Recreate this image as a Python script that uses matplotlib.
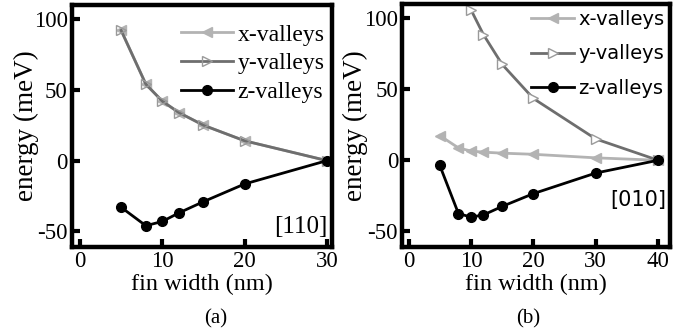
import numpy as np
import matplotlib.pyplot as plt

#--------------------
# data

width_a = [5, 8, 10, 12, 15, 20, 30]
xval_a = [92, 54, 42, 34, 25, 14, 0]
yval_a = [92, 54, 42, 34, 25, 14, 0]
zval_a = [-33, -46, -43, -37, -29, -16.5, 0]

width_b = [5, 8, 10, 12, 15, 20, 30, 40]
xval_b = [17.4, 8.7, 6.5, 5.7, 5.0, 4.2, 1.7, 0]
width_b_y = [10, 12, 15, 20, 30, 40]
yval_b = [106, 88.5, 67.5, 43.5, 15, 0]
zval_b = [-3.5, -37.5, -40, -38.5, -32.5, -23.5, -9, 0]

labels = ['x-valleys', 'y-valleys', 'z-valleys']
light = '#b3b3b3'
mid = '#6e6e6e'

plt.rcParams['font.family'] = ['Liberation Serif', 'DejaVu Serif']
plt.rcParams['font.size'] = 17
plt.rcParams['axes.unicode_minus'] = False

fig = plt.figure(figsize=(6.9, 3.31), dpi=100)
ax_a = fig.add_axes([0.104, 0.254, 0.377, 0.731])
ax_b = fig.add_axes([0.583, 0.254, 0.388, 0.734])


def style_axes(ax, xmax, xticks):
    for s in ax.spines.values():
        s.set_linewidth(3.2)
    ax.tick_params(direction='in', length=6, width=3.0, top=False, right=False,
                   labelsize=16.5, pad=3)
    ax.set_xticks(xticks)
    ax.set_yticks([-50, 0, 50, 100])
    ax.set_xlim(xticks[0] - 1, xmax)
    ax.set_ylim(-61, 110)
    ax.set_xlabel('fin width (nm)', fontsize=17.5, va='center')
    ax.xaxis.set_label_coords(0.5, -0.155)
    ax.set_ylabel('energy (meV)', fontsize=19.5, va='center')
    ax.yaxis.set_label_coords(-0.175, 0.5)


def draw(ax, wx, xv, wy, yv, wz, zv, yface):
    ax.plot(wx, xv, color=light, lw=2, marker='<', ms=7, mfc=light, mec=light, label=labels[0])
    ax.plot(wy, yv, color=mid, lw=2, marker='>', ms=7, mfc=yface, mec='#9a9a9a', label=labels[1])
    ax.plot(wz, zv, color='black', lw=2, marker='o', ms=7, label=labels[2])


draw(ax_a, width_a, xval_a, width_a, yval_a, width_a, zval_a, 'none')
style_axes(ax_a, 30.6, [0, 10, 20, 30])
ax_a.legend(loc='upper right', bbox_to_anchor=(1.0, 0.95), frameon=False,
            handlelength=2.2, handletextpad=0.2, labelspacing=0.3,
            borderaxespad=0.1, borderpad=0.2, fontsize=17)
ax_a.text(0.985, 0.035, '[110]', transform=ax_a.transAxes, ha='right', va='bottom', fontsize=18)
fig.text(0.312, 0.038, '(a)', ha='center', va='center', fontsize=15)

draw(ax_b, width_b, xval_b, width_b_y, yval_b, width_b, zval_b, 'white')
style_axes(ax_b, 41.9, [0, 10, 20, 30, 40])
ax_b.legend(loc='upper right', frameon=False, handlelength=2.2, handletextpad=0.2,
            labelspacing=0.8, borderaxespad=0.1, borderpad=0.2,
            prop={'family': 'DejaVu Sans', 'size': 14})
ax_b.text(0.985, 0.15, '[010]', transform=ax_b.transAxes, ha='right', va='bottom',
          fontsize=15, family='DejaVu Sans')
fig.text(0.765, 0.038, '(b)', ha='center', va='center', fontsize=15)

plt.savefig('out.png', dpi=100)
